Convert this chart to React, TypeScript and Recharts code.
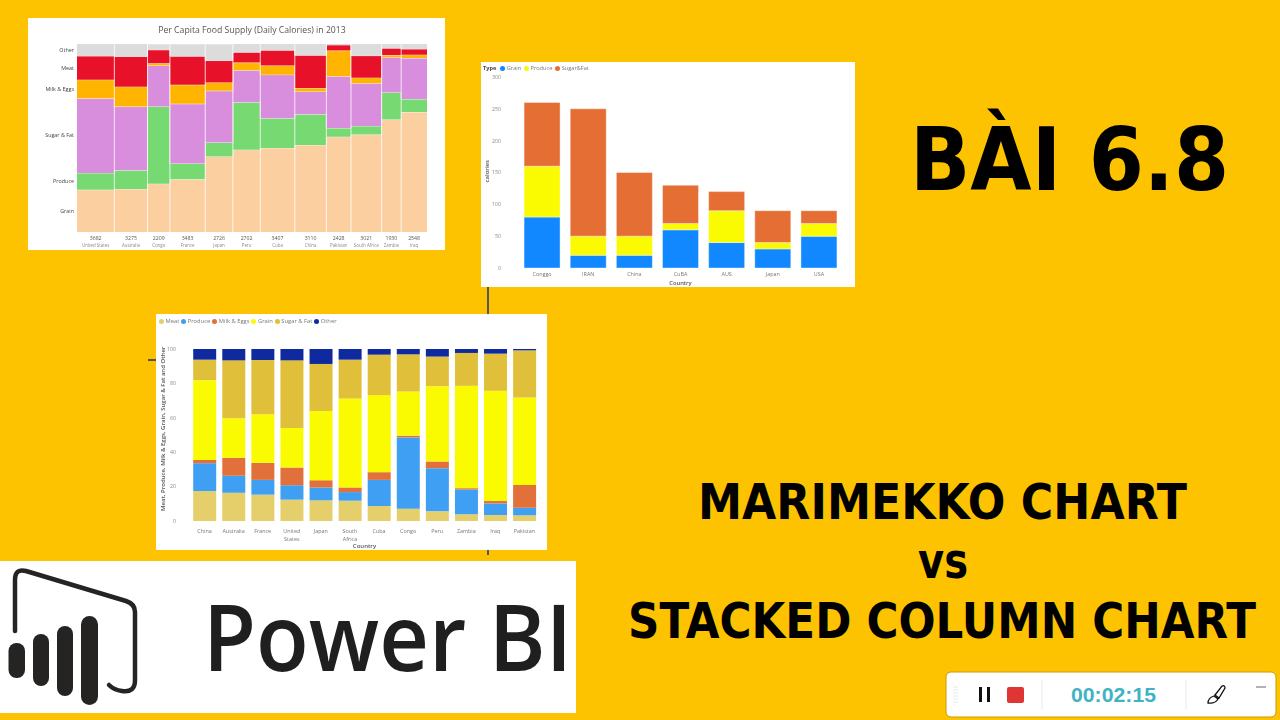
import React from "react"
import { Area, AreaChart, Bar, BarChart, Legend, ReferenceLine, XAxis, YAxis } from "recharts"

const SANS = "'Open Sans', 'Noto Sans', sans-serif"

// Marimekko
const mekkoCountries = ["United States", "Australia", "Congo", "France", "Japan", "Peru", "Cuba", "China", "Pakistan", "South Africa", "Zambia", "Iraq"]
const mekkoCalories = [3682, 3275, 2209, 3483, 2726, 2702, 3407, 3110, 2428, 3021, 1930, 2548]
const mekkoGrain = [22.5, 22.9, 25.7, 28.0, 40.2, 43.8, 44.7, 46.3, 50.7, 51.8, 59.8, 63.8]
const mekkoProduce = [8.9, 9.9, 41.1, 8.5, 7.4, 25.2, 15.8, 16.3, 4.6, 4.6, 14.4, 6.9]
const mekkoSugar = [39.7, 33.9, 21.8, 31.7, 27.5, 17.0, 23.2, 12.2, 27.5, 22.7, 18.8, 21.8]
const mekkoMilk = [9.9, 10.6, 1.2, 10.1, 4.4, 4.1, 4.8, 1.8, 13.7, 3.0, 1.1, 1.8]
const mekkoMeat = [12.6, 16.1, 7.1, 15.2, 11.7, 5.5, 8.2, 17.4, 3.0, 11.7, 3.7, 3.0]
const mekkoOther = [6.4, 6.6, 3.0, 6.4, 8.7, 4.4, 3.4, 6.0, 0.5, 6.2, 2.3, 2.7]
const mekkoLabels = ["Grain", "Produce", "Sugar & Fat", "Milk & Eggs", "Meat", "Other"]
const mekkoLabelTicks = [11.3, 27.1, 51.4, 76.2, 87.2, 97]

// Stacked calories
const calCountries = ["Conggo", "IRAN", "China", "CuBA", "AUS", "Japan", "USA"]
const calGrain = [80, 20, 20, 60, 40, 30, 50]
const calProduce = [80, 30, 30, 10, 50, 10, 20]
const calSugar = [100, 200, 100, 60, 30, 50, 20]
const calTicks = [0, 50, 100, 150, 200, 250, 300]

// 100% stacked
const pctCountries = ["China", "Australia", "France", "United States", "Japan", "South Africa", "Cuba", "Congo", "Peru", "Zambia", "Iraq", "Pakistan"]
const pctMeat = [17.4, 16.4, 15.3, 12.4, 12, 11.8, 8.7, 7.1, 5.6, 3.9, 3.5, 3.3]
const pctProduce = [16.2, 9.9, 8.6, 8.4, 7.5, 5, 15.2, 41.5, 25.1, 14.4, 6.7, 4.4]
const pctMilk = [1.9, 10.4, 9.9, 10.3, 4.2, 2.7, 4.5, 1, 3.9, 0.8, 1.4, 13.3]
const pctGrain = [46.4, 23, 28.2, 23, 40.2, 51.7, 44.8, 25.7, 43.8, 59.5, 64.1, 50.8]
const pctSugar = [11.9, 33.7, 31.6, 39.3, 27.4, 22.6, 23.5, 21.6, 17.2, 19.1, 21.6, 27.4]
const pctOther = [6.2, 6.6, 6.4, 6.6, 8.7, 6.2, 3.3, 3.1, 4.4, 2.3, 2.7, 0.8]
const pctTicks = [0, 20, 40, 60, 80, 100]

// one row per column edge, plus a closing row so the last step has a width
let runningX = 0
const mekkoEdges: number[] = []
const mekkoMids: number[] = []
const mekkoData = mekkoCalories.map((c, i) => {
  const row = {
    x: runningX,
    grain: mekkoGrain[i],
    produce: mekkoProduce[i],
    sugar: mekkoSugar[i],
    milk: mekkoMilk[i],
    meat: mekkoMeat[i],
    other: mekkoOther[i],
  }
  mekkoEdges.push(runningX)
  mekkoMids.push(runningX + c / 2)
  runningX += c
  return row
})
mekkoData.push({ ...mekkoData[mekkoData.length - 1], x: runningX })
const mekkoTotal = runningX

const calData = calCountries.map((name, i) => ({ name, grain: calGrain[i], produce: calProduce[i], sugar: calSugar[i] }))
const pctData = pctCountries.map((name, i) => ({
  name,
  meat: pctMeat[i],
  produce: pctProduce[i],
  milk: pctMilk[i],
  grain: pctGrain[i],
  sugar: pctSugar[i],
  other: pctOther[i],
}))

function MekkoXTick({ x, y, index }: any) {
  return (
    <g fontFamily={SANS}>
      <text x={x} y={y - 0.5} textAnchor="middle" fontSize={5.2} fill="#555">{mekkoCalories[index]}</text>
      <text x={x} y={y + 7} textAnchor="middle" fontSize={4.4} fill="#8a8a8a">{mekkoCountries[index]}</text>
    </g>
  )
}

function MekkoYTick({ x, y, index }: any) {
  return (
    <text x={x + 5} y={y + 2} textAnchor="end" fontSize={5.4} fontFamily={SANS} fill="#444">{mekkoLabels[index]}</text>
  )
}

function WrapTick({ x, y, payload }: any) {
  const parts = String(payload.value).split(" ")
  return (
    <text x={x} y={y} textAnchor="middle" fontSize={5.4} fontFamily={SANS} fill="#777">
      {parts.map((p: string, i: number) => (
        <tspan key={p} x={x} dy={i === 0 ? 4 : 7.5}>{p}</tspan>
      ))}
    </text>
  )
}

function LegendRow({ payload, prefix, gap, fontSize }: any) {
  return (
    <div style={{ display: "flex", alignItems: "center", fontFamily: SANS, fontSize, color: "#777", whiteSpace: "nowrap", lineHeight: "10px" }}>
      {prefix && <span style={{ fontWeight: 700, color: "#444", marginRight: 4 }}>{prefix}</span>}
      {(payload || []).map((item: any) => (
        <span key={item.value} style={{ display: "flex", alignItems: "center", marginRight: gap }}>
          <span style={{ width: 5, height: 5, borderRadius: 3, background: item.color, marginRight: 1.5 }} />
          {item.value}
        </span>
      ))}
    </div>
  )
}

function Panel({ left, top, width, height, children }: any) {
  return (
    <div style={{ position: "absolute", left, top, width, height, background: "#fff", overflow: "hidden", filter: "blur(0.3px)" }}>
      {children}
    </div>
  )
}

export default function App() {
  return (
    <div style={{ position: "absolute", left: 0, top: 0, width: 1280, height: 720, background: "#fdc300", overflow: "hidden" }}>
      <div style={{ position: "absolute", left: 487, top: 287, width: 1.5, height: 28, background: "#555" }} />
      <div style={{ position: "absolute", left: 487, top: 550, width: 1.5, height: 5, background: "#555" }} />
      <div style={{ position: "absolute", left: 148, top: 359, width: 8, height: 1.5, background: "#555" }} />

      <Panel left={28} top={18} width={417} height={232}>
        <div style={{ position: "absolute", left: 0, right: 0, top: 6, paddingLeft: 31, textAlign: "center", fontFamily: SANS, fontSize: 8.7, color: "#555" }}>
          Per Capita Food Supply (Daily Calories) in 2013
        </div>
        <AreaChart width={417} height={232} data={mekkoData} margin={{ top: 26, right: 18, bottom: 0, left: 0 }}>
          <XAxis
            dataKey="x"
            type="number"
            domain={[0, mekkoTotal]}
            ticks={mekkoMids}
            interval={0}
            height={18}
            axisLine={false}
            tickLine={false}
            tick={<MekkoXTick />}
          />
          <YAxis
            width={49}
            domain={[0, 100]}
            allowDataOverflow
            ticks={mekkoLabelTicks}
            interval={0}
            axisLine={false}
            tickLine={false}
            tick={<MekkoYTick />}
          />
          <Area dataKey="grain" stackId="m" type="stepAfter" fill="#fbcfa0" fillOpacity={1} stroke="#fff" strokeWidth={0.7} dot={false} activeDot={false} isAnimationActive={false} />
          <Area dataKey="produce" stackId="m" type="stepAfter" fill="#77d971" fillOpacity={1} stroke="#fff" strokeWidth={0.7} dot={false} activeDot={false} isAnimationActive={false} />
          <Area dataKey="sugar" stackId="m" type="stepAfter" fill="#d88edc" fillOpacity={1} stroke="#fff" strokeWidth={0.7} dot={false} activeDot={false} isAnimationActive={false} />
          <Area dataKey="milk" stackId="m" type="stepAfter" fill="#ffb400" fillOpacity={1} stroke="#fff" strokeWidth={0.7} dot={false} activeDot={false} isAnimationActive={false} />
          <Area dataKey="meat" stackId="m" type="stepAfter" fill="#e8112a" fillOpacity={1} stroke="#fff" strokeWidth={0.7} dot={false} activeDot={false} isAnimationActive={false} />
          <Area dataKey="other" stackId="m" type="stepAfter" fill="#dcdcdc" fillOpacity={1} stroke="none" dot={false} activeDot={false} isAnimationActive={false} />
          {mekkoEdges.slice(1).map((e) => (
            <ReferenceLine key={e} x={e} stroke="#fff" strokeWidth={0.8} />
          ))}
        </AreaChart>
      </Panel>

      <Panel left={481} top={62} width={374} height={225}>
        <BarChart width={374} height={225} data={calData} barCategoryGap="11%" margin={{ top: 5, right: 13, bottom: 0, left: 0 }}>
          <Legend
            verticalAlign="top"
            align="left"
            itemSorter={null}
            wrapperStyle={{ top: 1, left: 2, width: 200, height: 10 }}
            content={(p: any) => <LegendRow payload={p.payload} prefix="Type" gap={3} fontSize={5.6} />}
          />
          <XAxis
            dataKey="name"
            height={19}
            interval={0}
            axisLine={false}
            tickLine={false}
            tickMargin={0}
            tick={{ fontSize: 5.4, fill: "#777", fontFamily: SANS, dy: -2 }}
            label={{ value: "Country", position: "insideBottom", offset: 2, fontSize: 5.8, fontWeight: 600, fill: "#555", fontFamily: SANS }}
          />
          <YAxis
            width={38}
            domain={[0, 300]}
            ticks={calTicks}
            axisLine={false}
            tickLine={false}
            tickMargin={12}
            tick={{ fontSize: 5.2, fill: "#888", fontFamily: SANS }}
            label={{ value: "calories", angle: -90, position: "insideLeft", offset: 6, dy: 10, fontSize: 6, fontWeight: 600, fill: "#555", fontFamily: SANS }}
          />
          <Bar dataKey="grain" name="Grain" stackId="a" fill="#1188ff" stroke="#fff" strokeWidth={0.4} isAnimationActive={false} />
          <Bar dataKey="produce" name="Produce" stackId="a" fill="#fafa00" stroke="#fff" strokeWidth={0.4} isAnimationActive={false} />
          <Bar dataKey="sugar" name="Sugar&Fat" stackId="a" fill="#e46e33" stroke="#fff" strokeWidth={0.4} isAnimationActive={false} />
        </BarChart>
      </Panel>

      <Panel left={156} top={314} width={391} height={236}>
        <BarChart width={391} height={236} data={pctData} barCategoryGap="11%" margin={{ top: 25, right: 8, bottom: 0, left: 0 }}>
          <Legend
            verticalAlign="top"
            align="left"
            itemSorter={null}
            wrapperStyle={{ top: 2, left: 3, width: 300, height: 10 }}
            content={(p: any) => <LegendRow payload={p.payload} gap={2} fontSize={5.8} />}
          />
          <XAxis
            dataKey="name"
            height={29}
            interval={0}
            axisLine={false}
            tickLine={false}
            tick={<WrapTick />}
            label={{ value: "Country", position: "insideBottom", offset: 2, fontSize: 6, fontWeight: 600, fill: "#555", fontFamily: SANS }}
          />
          <YAxis
            width={34}
            domain={[0, 100]}
            ticks={pctTicks}
            axisLine={false}
            tickLine={false}
            tickMargin={8}
            tick={{ fontSize: 5.2, fill: "#888", fontFamily: SANS }}
            label={{ value: "Meat, Produce, Milk & Eggs, Grain, Sugar & Fat and Other", angle: -90, position: "insideLeft", offset: 7, dy: 76, fontSize: 6, fontWeight: 600, fill: "#555", fontFamily: SANS }}
          />
          <Bar dataKey="meat" name="Meat" stackId="p" fill="#e5cf6b" isAnimationActive={false} />
          <Bar dataKey="produce" name="Produce" stackId="p" fill="#3fa0f3" isAnimationActive={false} />
          <Bar dataKey="milk" name="Milk & Eggs" stackId="p" fill="#e2703a" isAnimationActive={false} />
          <Bar dataKey="grain" name="Grain" stackId="p" fill="#fafa00" isAnimationActive={false} />
          <Bar dataKey="sugar" name="Sugar & Fat" stackId="p" fill="#e0bf3a" isAnimationActive={false} />
          <Bar dataKey="other" name="Other" stackId="p" fill="#0f2a9f" isAnimationActive={false} />
        </BarChart>
      </Panel>

      <svg width={1280} height={720} style={{ position: "absolute", left: 0, top: 0 }}>
        {/* Power BI logo */}
        <rect x={0} y={561} width={576} height={152} fill="#fff" />
        <g fill="#252423">
          <rect x={8.5} y={643} width={16.5} height={35} rx={8} />
          <rect x={33} y={634} width={16} height={52} rx={8} />
          <rect x={57} y={626} width={16} height={70} rx={8} />
          <rect x={81} y={616} width={17} height={89} rx={8.5} />
        </g>
        <path d="M15 631 V580 Q15 568 26 571 L126 601 Q135 604 135 612 V680 Q135 693 122 691 Q114 690 109 685" fill="none" stroke="#252423" strokeWidth={4.5} strokeLinecap="round" />
        <text x={203} y={670.5} fontFamily="'Open Sans', sans-serif" fontWeight={600} fontSize={93} fill="#1f1f1f" textLength={369} lengthAdjust="spacingAndGlyphs">Power BI</text>

        {/* headings */}
        <g fontFamily="'DejaVu Sans', sans-serif" fontWeight={700} fill="#000">
          <text x={910} y={190} fontSize={88} textLength={319} lengthAdjust="spacingAndGlyphs">BÀI 6.8</text>
          <text x={698} y={519} fontSize={49} textLength={489} lengthAdjust="spacingAndGlyphs">MARIMEKKO CHART</text>
          <text x={918} y={578} fontSize={49} textLength={50} lengthAdjust="spacingAndGlyphs">vs</text>
          <text x={628} y={638} fontSize={49} textLength={628} lengthAdjust="spacingAndGlyphs">STACKED COLUMN CHART</text>
        </g>

        {/* recorder toolbar */}
        <rect x={946} y={672} width={330} height={45} rx={5} fill="#fff" stroke="#c99a00" strokeWidth={1} />
        <g stroke="#eaeaea" strokeWidth={1}>
          <line x1={953} y1={687} x2={958} y2={687} />
          <line x1={953} y1={690} x2={958} y2={690} />
          <line x1={953} y1={693} x2={958} y2={693} />
          <line x1={953} y1={696} x2={958} y2={696} />
          <line x1={953} y1={699} x2={958} y2={699} />
          <line x1={953} y1={702} x2={958} y2={702} />
          <line x1={1042} y1={680} x2={1042} y2={710} />
          <line x1={1186} y1={680} x2={1186} y2={710} />
        </g>
        <rect x={979} y={687} width={3} height={15} fill="#111" />
        <rect x={987} y={687} width={3} height={15} fill="#111" />
        <rect x={1007} y={687} width={17} height={16} rx={2} fill="#e03535" />
        <text x={1071} y={702} fontFamily="'Liberation Sans', sans-serif" fontWeight={700} fontSize={20} fill="#3fb3c4" textLength={85} lengthAdjust="spacingAndGlyphs">00:02:15</text>
        <path d="M1215 695 L1222 686 Q1225 685 1225 688 L1219 698 Z M1214 696 Q1208 698 1208 703 Q1215 704 1218 699 Z" fill="#fff" stroke="#111" strokeWidth={1.3} />
        <line x1={1256} y1={687} x2={1266} y2={687} stroke="#999" strokeWidth={1.5} />
      </svg>
    </div>
  )
}
